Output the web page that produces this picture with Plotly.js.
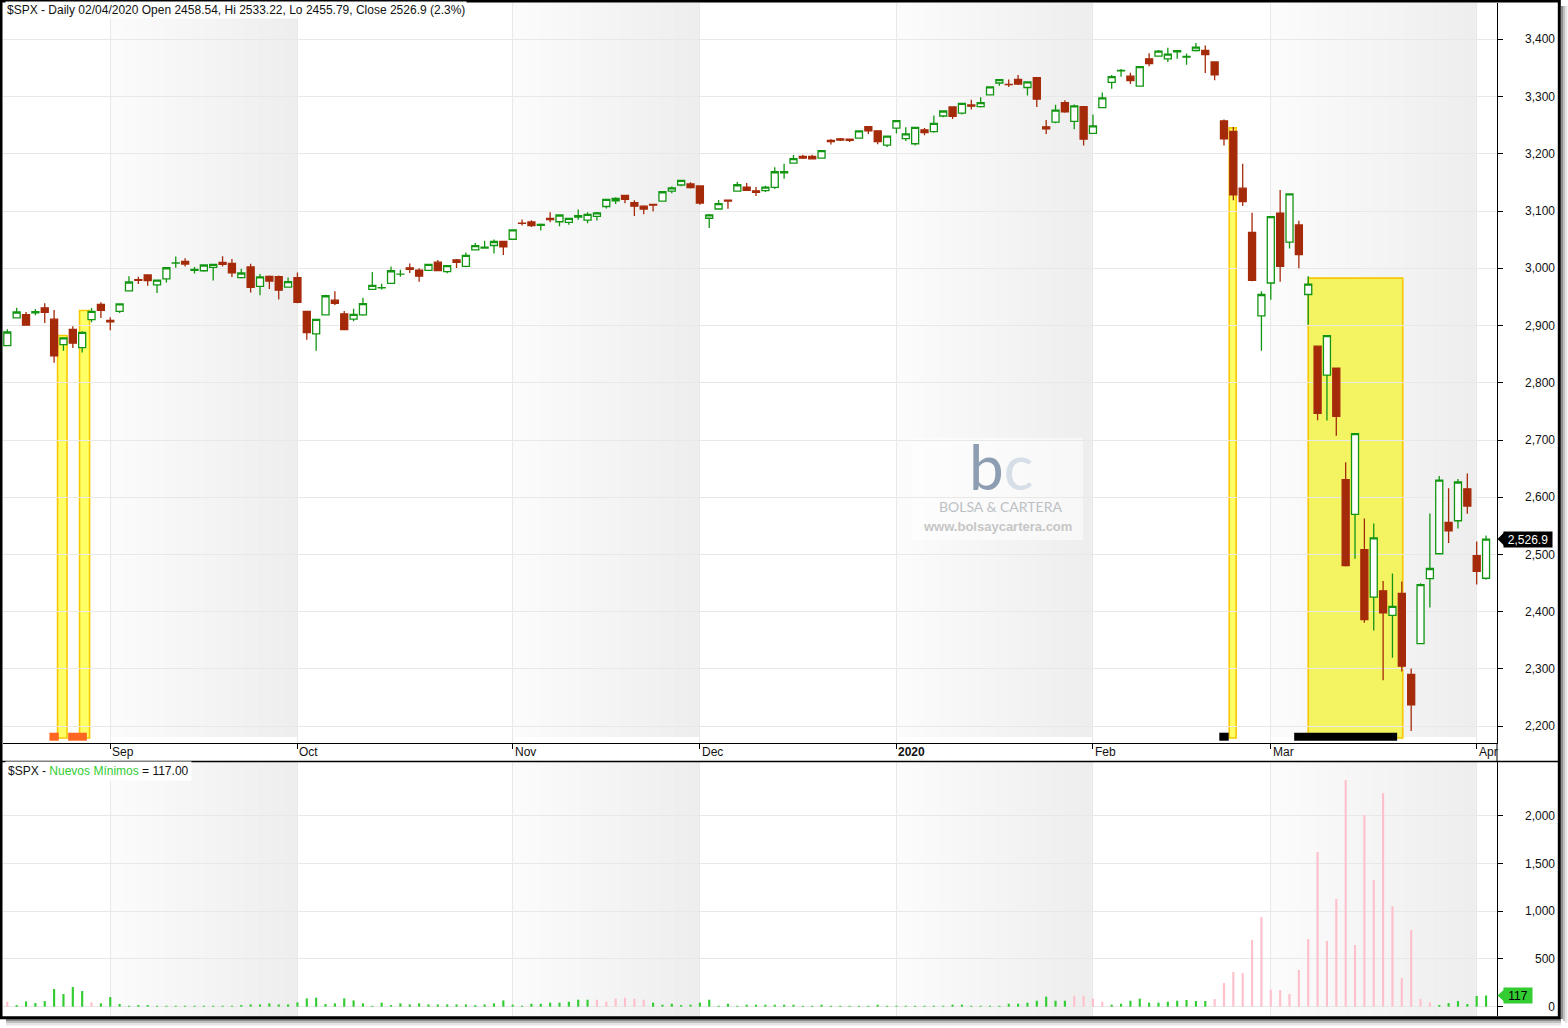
<!DOCTYPE html>
<html>
<head>
<meta charset="utf-8">
<script src="https://cdn.plot.ly/plotly-3.0.1.min.js"></script>
<style>
html,body{margin:0;padding:0;background:#fff;}
#chart{width:1568px;height:1028px;}
</style>
</head>
<body>
<div id="chart"></div>
<script>
// ---------------- DATA ----------------
const dates = [
'2019-08-16','2019-08-19','2019-08-20','2019-08-21','2019-08-22','2019-08-23','2019-08-26','2019-08-27','2019-08-28','2019-08-29','2019-08-30',
'2019-09-03','2019-09-04','2019-09-05','2019-09-06','2019-09-09','2019-09-10','2019-09-11','2019-09-12','2019-09-13','2019-09-16','2019-09-17','2019-09-18','2019-09-19','2019-09-20','2019-09-23','2019-09-24','2019-09-25','2019-09-26','2019-09-27','2019-09-30',
'2019-10-01','2019-10-02','2019-10-03','2019-10-04','2019-10-07','2019-10-08','2019-10-09','2019-10-10','2019-10-11','2019-10-14','2019-10-15','2019-10-16','2019-10-17','2019-10-18','2019-10-21','2019-10-22','2019-10-23','2019-10-24','2019-10-25','2019-10-28','2019-10-29','2019-10-30','2019-10-31',
'2019-11-01','2019-11-04','2019-11-05','2019-11-06','2019-11-07','2019-11-08','2019-11-11','2019-11-12','2019-11-13','2019-11-14','2019-11-15','2019-11-18','2019-11-19','2019-11-20','2019-11-21','2019-11-22','2019-11-25','2019-11-26','2019-11-27','2019-11-29',
'2019-12-02','2019-12-03','2019-12-04','2019-12-05','2019-12-06','2019-12-09','2019-12-10','2019-12-11','2019-12-12','2019-12-13','2019-12-16','2019-12-17','2019-12-18','2019-12-19','2019-12-20','2019-12-23','2019-12-24','2019-12-26','2019-12-27','2019-12-30','2019-12-31',
'2020-01-02','2020-01-03','2020-01-06','2020-01-07','2020-01-08','2020-01-09','2020-01-10','2020-01-13','2020-01-14','2020-01-15','2020-01-16','2020-01-17','2020-01-21','2020-01-22','2020-01-23','2020-01-24','2020-01-27','2020-01-28','2020-01-29','2020-01-30','2020-01-31',
'2020-02-03','2020-02-04','2020-02-05','2020-02-06','2020-02-07','2020-02-10','2020-02-11','2020-02-12','2020-02-13','2020-02-14','2020-02-18','2020-02-19','2020-02-20','2020-02-21','2020-02-24','2020-02-25','2020-02-26','2020-02-27','2020-02-28',
'2020-03-02','2020-03-03','2020-03-04','2020-03-05','2020-03-06','2020-03-09','2020-03-10','2020-03-11','2020-03-12','2020-03-13','2020-03-16','2020-03-17','2020-03-18','2020-03-19','2020-03-20','2020-03-23','2020-03-24','2020-03-25','2020-03-26','2020-03-27','2020-03-30','2020-03-31',
'2020-04-01','2020-04-02'
];

const openPx = [
2864.74,2913.48,2919.01,2922.04,2930.94,2911.07,2866.70,2893.14,2861.28,2910.37,2937.09,
2909.01,2924.67,2960.60,2980.33,2988.43,2971.01,2981.41,3009.08,3012.21,2996.41,2995.67,3001.50,3010.36,3008.42,2983.50,3002.43,2968.35,2985.73,2985.47,2967.07,
2983.69,2924.78,2885.38,2918.56,2944.23,2920.40,2911.10,2918.55,2963.07,2965.81,2973.61,2989.68,3000.77,2996.84,2996.48,3010.73,2994.01,3014.78,3003.32,3032.12,3035.39,3039.74,3046.90,
3050.72,3078.96,3080.80,3075.10,3087.02,3081.25,3080.33,3089.28,3084.18,3090.75,3107.92,3117.91,3127.45,3114.66,3108.49,3111.41,3117.44,3134.85,3145.49,3147.18,
3143.85,3087.41,3103.50,3119.21,3134.62,3141.86,3135.36,3135.75,3141.23,3166.65,3183.63,3195.40,3195.21,3192.32,3223.33,3226.05,3225.45,3227.20,3247.23,3240.09,3215.18,
3244.67,3226.36,3217.55,3241.86,3238.59,3266.03,3281.81,3271.13,3285.35,3282.27,3302.97,3323.66,3321.03,3330.02,3315.77,3333.10,3247.16,3255.35,3289.46,3256.45,3282.33,
3235.66,3280.61,3324.91,3344.92,3335.54,3318.28,3365.87,3370.50,3365.90,3378.08,3369.04,3380.39,3380.45,3360.50,3257.61,3238.94,3139.90,3062.54,2916.90,
2974.28,3096.46,3045.75,3075.70,2954.20,2863.89,2813.48,2825.60,2630.86,2569.99,2508.59,2425.66,2436.50,2393.48,2431.94,2290.71,2344.44,2457.77,2501.29,2555.87,2558.98,2614.69,
2498.08,2458.54
];

const highPx = [
2893.63,2931.00,2923.63,2928.73,2939.08,2927.01,2879.27,2898.79,2890.03,2930.50,2940.43,
2914.39,2938.84,2985.86,2985.03,2989.43,2979.39,3000.93,3020.74,3017.33,3002.19,3006.21,3007.83,3021.19,3016.37,2999.15,3007.98,2989.82,2987.28,2987.31,2983.85,
2992.53,2924.78,2911.13,2953.74,2959.75,2925.47,2929.32,2948.46,2993.28,2972.84,3003.28,2997.54,3008.29,3000.00,3007.33,3014.57,3004.78,3016.07,3027.39,3044.08,3047.87,3050.10,3046.90,
3066.95,3085.20,3083.95,3078.34,3097.77,3093.09,3088.33,3102.61,3098.06,3098.20,3120.46,3124.17,3127.64,3118.97,3110.11,3112.87,3133.83,3142.69,3154.26,3150.30,
3144.31,3094.97,3119.38,3119.45,3150.60,3148.87,3142.12,3143.98,3176.28,3182.68,3197.71,3198.22,3198.48,3205.48,3225.65,3227.78,3226.43,3240.08,3247.93,3240.92,3231.72,
3258.14,3246.15,3246.84,3244.91,3267.07,3275.58,3282.99,3288.13,3294.25,3298.66,3317.11,3329.88,3329.79,3337.77,3326.88,3333.18,3258.85,3285.78,3293.47,3285.91,3282.33,
3268.44,3306.92,3337.58,3347.96,3341.42,3352.26,3375.63,3381.47,3385.09,3380.69,3375.01,3393.52,3389.15,3360.76,3259.81,3246.99,3182.51,3097.07,2959.72,
3090.96,3136.72,3130.97,3083.04,2985.93,2863.89,2882.59,2825.60,2660.95,2711.33,2562.98,2553.93,2453.57,2466.97,2453.01,2300.73,2449.71,2571.42,2637.01,2615.91,2631.80,2641.39,
2522.75,2533.22
];

const lowPx = [
2864.74,2913.48,2899.60,2917.91,2904.51,2834.97,2856.00,2860.59,2853.05,2905.67,2913.32,
2891.85,2921.86,2960.60,2972.51,2969.39,2957.01,2975.31,3000.92,3002.90,2990.67,2993.73,2978.57,3003.16,2984.68,2982.23,2957.73,2952.86,2963.71,2945.53,2967.07,
2938.70,2874.93,2855.94,2918.56,2935.68,2892.66,2907.41,2917.12,2963.07,2962.94,2973.61,2985.20,2991.79,2976.31,2995.35,2995.04,2991.21,3000.42,3001.94,3032.12,3034.81,3025.96,3023.19,
3050.72,3074.87,3072.15,3065.89,3080.23,3073.58,3075.82,3084.73,3078.80,3083.26,3104.60,3112.06,3113.47,3091.41,3094.55,3099.26,3117.44,3131.00,3143.41,3139.34,
3110.78,3070.33,3102.53,3103.76,3134.62,3135.46,3126.09,3133.21,3138.47,3156.51,3183.63,3191.03,3191.14,3192.32,3216.03,3222.30,3220.51,3227.20,3234.37,3216.57,3212.03,
3235.53,3222.34,3214.64,3232.43,3236.67,3263.67,3260.86,3268.43,3277.19,3280.69,3302.82,3318.86,3316.61,3320.04,3301.87,3281.53,3234.50,3253.22,3271.89,3242.80,3214.68,
3235.66,3280.61,3313.75,3334.39,3322.12,3317.77,3352.72,3369.72,3360.52,3366.15,3355.61,3378.83,3341.02,3328.45,3214.65,3118.77,3108.99,2977.39,2855.84,
2945.19,2976.63,3034.38,2999.83,2901.54,2734.43,2734.00,2707.22,2478.86,2492.37,2380.94,2367.04,2280.52,2319.78,2295.56,2191.86,2344.44,2407.53,2500.72,2520.02,2545.28,2571.15,
2447.49,2455.79
];

const closePx = [
2888.68,2923.65,2900.51,2924.43,2922.95,2847.11,2878.38,2869.16,2887.94,2924.58,2926.46,
2906.27,2937.78,2976.00,2978.71,2978.43,2979.39,3000.93,3009.57,3007.39,2997.96,3005.70,3006.73,3006.79,2992.07,2991.78,2966.60,2984.87,2977.62,2961.79,2976.74,
2940.25,2887.61,2910.63,2952.01,2938.79,2893.06,2919.40,2938.13,2970.27,2966.15,2995.68,2989.69,2997.95,2986.20,3006.72,2995.99,3004.52,3010.29,3022.55,3039.42,3036.89,3046.77,3037.56,
3066.91,3078.27,3074.62,3076.78,3085.18,3093.08,3087.01,3091.84,3094.04,3096.63,3120.46,3122.03,3120.18,3108.46,3103.54,3110.29,3133.64,3140.52,3153.63,3140.98,
3113.87,3093.20,3112.76,3117.43,3145.91,3135.96,3132.52,3141.63,3168.57,3168.80,3191.45,3192.52,3191.14,3205.37,3221.22,3224.01,3223.38,3239.91,3240.02,3221.29,3230.78,
3257.85,3234.85,3246.28,3237.18,3253.05,3274.70,3265.35,3288.13,3283.15,3289.29,3316.81,3329.62,3320.79,3321.75,3325.54,3295.47,3243.63,3276.24,3273.40,3283.66,3225.52,
3248.92,3297.59,3334.69,3345.78,3327.71,3352.09,3357.75,3379.45,3373.94,3380.16,3370.29,3386.15,3373.23,3337.75,3225.89,3128.21,3116.39,2978.76,2954.22,
3090.23,3003.37,3130.12,3023.94,2972.37,2746.56,2882.23,2741.38,2480.64,2711.02,2386.13,2529.19,2398.10,2409.39,2304.92,2237.40,2447.33,2475.56,2630.07,2541.47,2626.65,2584.59,
2470.50,2526.90
];

// "Nuevos Mínimos" (new lows count) per day
const newLows = [
52,17,56,38,59,185,133,206,164,45,35,
101,28,10,17,17,10,10,10,10,10,10,10,10,10,17,24,24,35,24,24,
45,87,94,28,35,87,66,35,10,42,17,35,24,35,24,24,24,24,24,17,24,35,66,
21,10,31,31,42,42,52,73,73,73,52,84,94,84,73,42,21,31,17,21,
42,73,10,31,10,21,21,21,21,21,21,10,10,21,10,10,10,10,10,21,10,
10,10,10,10,10,10,21,21,10,10,10,10,31,31,42,63,105,63,63,115,115,
84,52,21,31,63,84,42,42,52,63,70,60,60,80,248,363,352,698,939,
178,175,133,384,708,1619,688,1127,2373,646,2007,1326,2237,1054,300,803,80,45,17,38,59,28,
112,117
];
// 1 = pink bar, 0 = green bar
const newLowsPink = [
1,0,0,0,0,0,0,0,0,1,0,
0,0,0,0,0,0,0,0,0,0,0,0,0,0,0,0,0,0,0,0,
0,0,0,0,0,0,0,0,0,0,0,0,0,0,0,0,0,0,0,0,0,0,0,
0,0,0,0,0,0,0,0,0,1,1,1,1,1,1,0,0,0,0,0,
0,0,0,0,0,0,0,0,0,0,0,0,0,0,0,0,0,0,0,0,0,
0,0,0,0,0,0,0,0,0,0,0,0,0,0,0,0,0,0,0,1,1,
1,1,0,0,0,0,0,0,0,0,0,0,0,1,1,1,1,1,1,
1,1,1,1,1,1,1,1,1,1,1,1,1,1,1,1,1,1,0,0,0,0,
0,0
];

const monthTickDates  = ['2019-09-03','2019-10-01','2019-11-01','2019-12-02','2020-01-02','2020-02-03','2020-03-02','2020-04-01'];
const monthTickLabels = ['Sep','Oct','Nov','Dec','<b>2020</b>','Feb','Mar','Apr'];
const lowsTickVals = [0, 500, 1000, 1500, 2000];
// alternating shaded months [start, end)
const shadedMonths = [['2019-09-03','2019-10-01'],['2019-11-01','2019-12-02'],['2020-01-02','2020-02-03'],['2020-03-02','2020-04-01']];
// signal days marked at the bottom of the price pane
const signalOrangeDays = ['2019-08-23','2019-08-27','2019-08-28'];
const signalBlackDays  = ['2020-02-24','2020-03-05','2020-03-06','2020-03-09','2020-03-10','2020-03-11','2020-03-12','2020-03-13','2020-03-16','2020-03-17','2020-03-18','2020-03-19'];
// yellow highlight zones (category-index span, top price)
const highlightZones = [
  {x0: 5.37,   x1: 6.38,   top: 2882.6},
  {x0: 7.72,   x1: 8.79,   top: 2926.2},
  {x0: 130.56, x1: 131.30, top: 3245.2},
  {x0: 139.0,  x1: 149.1,  top: 2982.8}
];

// ---------------- LAYOUT HELPERS ----------------
const W = 1568, H = 1028;
const fx = px => px / W;
const fy = py => 1 - py / H;
const GREEN = '#129612', RED = '#a52a0a';
const BAR_GREEN = '#33cc33', BAR_PINK = '#ffc0cb';
const n = dates.length;
const idx = d => dates.indexOf(d);

const P_TOP = 3, P_BOT = 743;      // price pane pixel extents
const L_TOP = 762, L_BOT = 1016;   // lower pane pixel extents
const X_L = 3, X_R = 1497;
const priceRange = [2170.7, 3463.4];
const lowsRange = [-97.4, 2562];
const pyToPrice = py => priceRange[0] + (P_BOT - py) / (P_BOT - P_TOP) * (priceRange[1] - priceRange[0]);

// group consecutive trading days into runs [firstIdx, lastIdx]
function runs(days) {
  const ids = days.map(idx).sort((a, b) => a - b);
  const out = [];
  ids.forEach(i => {
    if (out.length && out[out.length - 1][1] === i - 1) out[out.length - 1][1] = i;
    else out.push([i, i]);
  });
  return out;
}

// ---------------- TRACES ----------------
const candles = {
  type: 'candlestick', x: dates, open: openPx, high: highPx, low: lowPx, close: closePx,
  xaxis: 'x', yaxis: 'y', whiskerwidth: 0, hoverinfo: 'skip', showlegend: false,
  increasing: {line: {color: GREEN, width: 1.3}, fillcolor: '#ffffff'},
  decreasing: {line: {color: RED, width: 1.3}, fillcolor: RED}
};
const bars = {
  type: 'bar', x: dates, y: newLows, xaxis: 'x2', yaxis: 'y2', width: 0.23,
  marker: {color: newLowsPink.map(p => p ? BAR_PINK : BAR_GREEN), line: {width: 0}},
  hoverinfo: 'skip', showlegend: false
};
const dummy3 = {type: 'scatter', x: [dates[0]], y: [null], xaxis: 'x', yaxis: 'y3', showlegend: false, hoverinfo: 'skip'};
const dummy4 = {type: 'scatter', x: [dates[0]], y: [null], xaxis: 'x2', yaxis: 'y4', showlegend: false, hoverinfo: 'skip'};

// ---------------- SHAPES ----------------
const shapes = [];
const STRIPS = 14;
shadedMonths.forEach(([a, b]) => {
  const i0 = idx(a), i1 = idx(b);
  for (let k = 0; k < STRIPS; k++) {
    const t = k / (STRIPS - 1);
    const g = Math.round(251 - 13 * t);
    const col = `rgb(${g},${g},${g})`;
    const x0 = i0 + (i1 - i0) * k / STRIPS;
    const x1 = i0 + (i1 - i0) * (k + 1) / STRIPS + (k < STRIPS - 1 ? 0.03 : 0);
    shapes.push({type: 'rect', xref: 'x', yref: 'paper', x0, x1, y0: fy(737), y1: fy(P_TOP), fillcolor: col, line: {width: 0}, layer: 'below'});
    shapes.push({type: 'rect', xref: 'x', yref: 'paper', x0, x1, y0: fy(L_BOT), y1: fy(L_TOP), fillcolor: col, line: {width: 0}, layer: 'below'});
  }
});
// watermark box
shapes.push({type: 'rect', xref: 'paper', yref: 'paper', x0: fx(912), x1: fx(1083), y0: fy(540), y1: fy(438),
  fillcolor: 'rgba(255,255,255,0.55)', line: {width: 0}, layer: 'below'});
// yellow zones
highlightZones.forEach((z, k) => {
  shapes.push({type: 'rect', xref: 'x', yref: 'y', x0: z.x0, x1: z.x1, y0: pyToPrice(738), y1: z.top,
    fillcolor: k === 3 ? '#f4f462' : '#ffff66', line: {color: '#f7c800', width: 1.6}, layer: 'below'});
});
// signal markers (consecutive days merged into one block)
const markerY0 = pyToPrice(740.7), markerY1 = pyToPrice(732.7);
[[signalOrangeDays, '#ff6622'], [signalBlackDays, '#000000']].forEach(([days, col]) =>
  runs(days).forEach(([a, b]) => shapes.push({type: 'rect', xref: 'x', yref: 'y', x0: a - 0.5, x1: b + 0.5,
    y0: markerY0, y1: markerY1, fillcolor: col, line: {width: 0}, layer: 'above'})));
// axis line through date strip and strip bottom line
shapes.push({type: 'line', xref: 'paper', yref: 'paper', x0: fx(X_R), x1: fx(X_R), y0: fy(762), y1: fy(743), line: {color: '#000', width: 1}});
shapes.push({type: 'line', xref: 'paper', yref: 'paper', x0: 0, x1: fx(1558), y0: fy(761.5), y1: fy(761.5), line: {color: '#000', width: 1.3}});
// last-price and last-value pointer triangles
const lastClose = closePx[n - 1], lastLows = newLows[n - 1];
const pHalf = 7 * (priceRange[1] - priceRange[0]) / (P_BOT - P_TOP);
shapes.push({type: 'path', xref: 'paper', yref: 'y',
  path: `M ${fx(1497.5)},${lastClose} L ${fx(1504.5)},${lastClose + pHalf} L ${fx(1504.5)},${lastClose - pHalf} Z`,
  fillcolor: '#000', line: {width: 0}, layer: 'above'});
const lHalf = 7.3 * (lowsRange[1] - lowsRange[0]) / (L_BOT - L_TOP);
shapes.push({type: 'path', xref: 'paper', yref: 'y2',
  path: `M ${fx(1497.5)},${lastLows} L ${fx(1505.5)},${lastLows + lHalf} L ${fx(1505.5)},${lastLows - lHalf} Z`,
  fillcolor: BAR_GREEN, line: {width: 0}, layer: 'above'});
// drop shadow
[[0.45, 1561, 1563], [0.25, 1563, 1565], [0.1, 1565, 1567.5]].forEach(([a, x0, x1]) =>
  shapes.push({type: 'rect', xref: 'paper', yref: 'paper', x0: fx(x0), x1: fx(x1), y0: fy(1019 + (x0 - 1561)), y1: fy(6),
    fillcolor: `rgba(0,0,0,${a})`, line: {width: 0}, layer: 'above'}));
[[0.45, 1019, 1021], [0.25, 1021, 1023], [0.1, 1023, 1025.5]].forEach(([a, y0, y1]) =>
  shapes.push({type: 'rect', xref: 'paper', yref: 'paper', x0: fx(6), x1: fx(1561), y0: fy(y1), y1: fy(y0),
    fillcolor: `rgba(0,0,0,${a})`, line: {width: 0}, layer: 'above'}));
// outer border
shapes.push({type: 'rect', xref: 'paper', yref: 'paper', x0: fx(1), x1: fx(1559.3), y0: fy(1017.7), y1: fy(1),
  line: {color: '#000', width: 3}, fillcolor: 'rgba(0,0,0,0)', layer: 'above'});

// ---------------- ANNOTATIONS ----------------
const last = n - 1;
const [yy, mm, dd] = dates[last].split('-');
const pct = ((closePx[last] / closePx[last - 1] - 1) * 100).toFixed(1);
const titleText = `$SPX - Daily ${dd}/${mm}/${yy} Open ${openPx[last]}, Hi ${highPx[last]}, Lo ${lowPx[last]}, Close ${closePx[last]} (${pct}%)`;
const TXT = '#111';
const annotations = [
  {text: titleText, xref: 'paper', yref: 'paper', x: fx(5), y: fy(10), xanchor: 'left', yanchor: 'middle',
   showarrow: false, bgcolor: '#ffffff', borderpad: 1, font: {size: 12, color: TXT}},
  {text: `$SPX - <span style="color:${BAR_GREEN}">Nuevos Mínimos</span> = ${lastLows.toFixed(2)}`,
   xref: 'paper', yref: 'paper', x: fx(5), y: fy(770.5), xanchor: 'left', yanchor: 'middle',
   showarrow: false, bgcolor: '#ffffff', borderpad: 2, font: {size: 12, color: TXT}},
  {text: lastClose.toLocaleString('en-US', {maximumFractionDigits: 2}), xref: 'paper', yref: 'y',
   x: fx(1553), y: lastClose, xanchor: 'right', yanchor: 'middle', showarrow: false,
   bgcolor: '#000', width: 46, height: 13, borderpad: 1, font: {size: 12, color: '#fff'}},
  {text: String(lastLows), xref: 'paper', yref: 'y2', x: fx(1532.5), y: lastLows, xanchor: 'right', yanchor: 'middle',
   showarrow: false, bgcolor: BAR_GREEN, width: 26, height: 13, borderpad: 1, font: {size: 12, color: '#000'}},
  // watermark
  {text: '<span style="color:#8e9eb2">b</span><span style="color:#d6dee7">c</span>', xref: 'paper', yref: 'paper',
   x: fx(1001), y: fy(466), xanchor: 'center', yanchor: 'middle', showarrow: false, font: {family: 'Lato', size: 62}},
  {text: 'BOLSA &amp; CARTERA', xref: 'paper', yref: 'paper', x: fx(1001), y: fy(506.5), xanchor: 'center', yanchor: 'middle',
   showarrow: false, font: {family: 'Lato', size: 14, color: '#bcc0c5'}},
  {text: '<b>www.bolsaycartera.com</b>', xref: 'paper', yref: 'paper', x: fx(997), y: fy(526.5), xanchor: 'center', yanchor: 'middle',
   showarrow: false, font: {family: 'Liberation Sans', size: 13, color: '#c6c6c6'}}
];
monthTickDates.forEach((d, k) => annotations.push({
  text: monthTickLabels[k], xref: 'x', yref: 'paper', x: d, y: fy(752), xanchor: 'left', yanchor: 'middle',
  xshift: 0, showarrow: false, font: {size: 12, color: TXT}
}));

// ---------------- LAYOUT ----------------
const GRID = '#e8e8e8';
const layout = {
  width: W, height: H,
  margin: {l: 0, r: 0, t: 0, b: 0, pad: 0},
  paper_bgcolor: '#ffffff', plot_bgcolor: 'rgba(0,0,0,0)',
  showlegend: false, boxgap: 0.25, boxgroupgap: 0,
  font: {family: 'Liberation Sans, Arial, sans-serif', size: 12, color: TXT},
  xaxis: {type: 'category', domain: [fx(X_L), fx(X_R)], anchor: 'y', range: [-0.46, 159.17],
    rangeslider: {visible: false}, tickmode: 'array', tickvals: monthTickDates, showticklabels: false,
    ticks: 'outside', ticklen: 5, tickcolor: '#000', showgrid: true, gridcolor: GRID, gridwidth: 1,
    showline: true, linecolor: '#000', linewidth: 1, zeroline: false, fixedrange: true},
  xaxis2: {type: 'category', matches: 'x', domain: [fx(X_L), fx(X_R)], anchor: 'y2', range: [-0.46, 159.17],
    tickmode: 'array', tickvals: monthTickDates, showticklabels: false, ticks: '',
    showgrid: true, gridcolor: GRID, showline: false, zeroline: false, fixedrange: true},
  yaxis: {domain: [fy(P_BOT), fy(P_TOP)], range: priceRange, side: 'right', anchor: 'x',
    dtick: 100, tick0: 0, showticklabels: false, ticks: 'outside', ticklen: 5, tickcolor: '#000',
    showgrid: true, gridcolor: GRID, showline: true, linecolor: '#000', linewidth: 1, zeroline: false, fixedrange: true},
  yaxis2: {domain: [fy(L_BOT), fy(L_TOP)], range: lowsRange, side: 'right', anchor: 'x2',
    tickmode: 'array', tickvals: lowsTickVals, showticklabels: false, ticks: 'outside', ticklen: 5, tickcolor: '#000',
    showgrid: true, gridcolor: GRID, showline: true, linecolor: '#000', linewidth: 1, zeroline: false, fixedrange: true},
  yaxis3: {overlaying: 'y', anchor: 'free', position: fx(1555), side: 'left', range: priceRange,
    dtick: 100, tick0: 0, tickformat: ',', showgrid: false, showline: false, zeroline: false, ticks: '',
    tickfont: {size: 12, color: TXT}, fixedrange: true},
  yaxis4: {overlaying: 'y2', anchor: 'free', position: fx(1555), side: 'left', range: lowsRange,
    tickmode: 'array', tickvals: lowsTickVals, tickformat: ',', showgrid: false, showline: false, zeroline: false, ticks: '',
    tickfont: {size: 12, color: TXT}, fixedrange: true},
  shapes, annotations
};

Plotly.newPlot('chart', [candles, bars, dummy3, dummy4], layout, {staticPlot: true, displayModeBar: false});
</script>
</body>
</html>
